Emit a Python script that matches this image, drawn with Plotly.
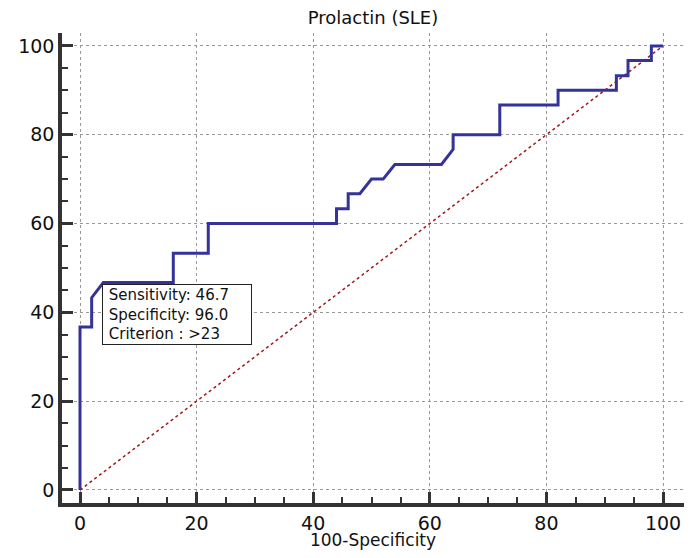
import plotly.graph_objects as go

# ROC curve points (100-Specificity, Sensitivity)
fpr = [0, 0, 2, 2, 4, 16, 16, 22, 22, 44, 44, 46, 46, 48, 50, 52, 54, 62, 64, 64,
       72, 72, 82, 82, 92, 92, 94, 94, 98, 98, 100]
tpr = [0, 36.7, 36.7, 43.3, 46.7, 46.7, 53.3, 53.3, 60, 60, 63.3, 63.3, 66.7, 66.7,
       70, 70, 73.3, 73.3, 76.7, 80, 80, 86.7, 86.7, 90, 90, 93.3, 93.3, 96.7, 96.7,
       100, 100]
diag_x = [0, 100]
diag_y = [0, 100]
tick_vals = [0, 20, 40, 60, 80, 100]
tick_text = ["0", "20", "40", "60", "80", "100"]

cut_x = 4
cut_y = 46.7
sens_txt = "46.7"
spec_txt = "96.0"
crit_txt = ">23"

FONT = "DejaVu Sans"
AX = "#333333"

fig = go.Figure()
fig.add_trace(go.Scatter(x=diag_x, y=diag_y, mode="lines",
                         line=dict(color="#a01818", width=1.5, dash="dot"),
                         hoverinfo="skip", showlegend=False))
fig.add_trace(go.Scatter(x=fpr, y=tpr, mode="lines",
                         line=dict(color="#333399", width=3),
                         showlegend=False))

fig.add_annotation(x=cut_x, y=cut_y, xref="x", yref="y",
                   xanchor="left", yanchor="top", showarrow=False, align="left",
                   text=(f"&nbsp;Sensitivity: {sens_txt}<br>&nbsp;Specificity: {spec_txt}"
                         f"<br>&nbsp;Criterion : {crit_txt}"),
                   width=146,
                   font=dict(family=FONT, size=15, color="#111"),
                   bgcolor="white", bordercolor="#222", borderwidth=1, borderpad=1,
                   xshift=-1, yshift=-1)

axis_common = dict(
    showline=True, linecolor=AX, linewidth=3.5,
    ticks="inside", ticklen=11, tickwidth=3, tickcolor=AX,
    tickvals=tick_vals, ticktext=tick_text,
    showgrid=True, gridcolor="#999999", griddash="dot", gridwidth=1,
    zeroline=False, mirror=False,
    tickfont=dict(family=FONT, size=19, color="#111"),
    minor=dict(ticks="inside", ticklen=6, tickwidth=2, tickcolor=AX, dtick=5,
               tick0=0, showgrid=False),
)

fig.update_xaxes(range=[-3.09, 103.6],
                 title=dict(text="100-Specificity", font=dict(family=FONT, size=17, color="#111"), standoff=1),
                 **axis_common)
fig.update_yaxes(range=[-2.93, 102.9], **axis_common)

# page body has an 8px default margin, so the figure is sized to fit inside the window
fig.update_layout(
    width=676, height=542,
    margin=dict(l=54, r=0, t=25, b=47, autoexpand=False),
    paper_bgcolor="white", plot_bgcolor="white",
    title=dict(text="Prolactin (SLE)", x=0.5, xref="paper", xanchor="center",
               y=0.993, yref="container", yanchor="top",
               font=dict(family=FONT, size=18, color="#111")),
)

fig.write_html("out.html")
